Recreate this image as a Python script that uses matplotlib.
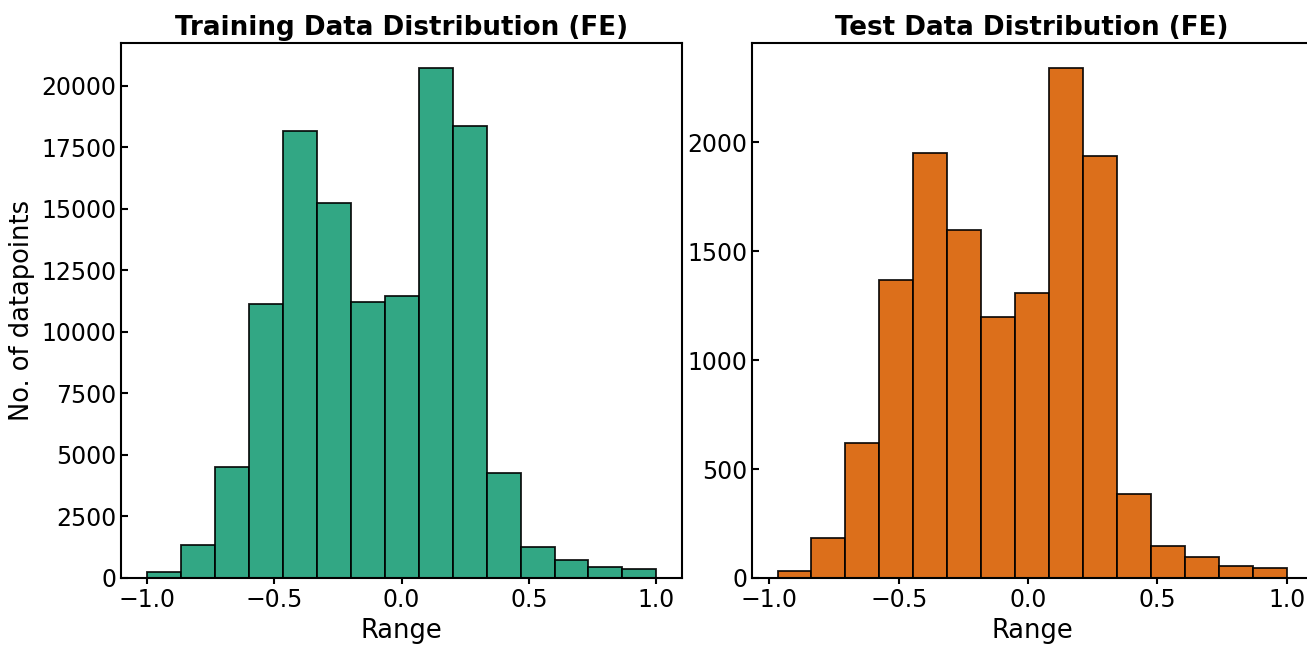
import numpy as np
import matplotlib
matplotlib.use("Agg")
import matplotlib.pyplot as plt
from matplotlib.ticker import MultipleLocator

# bin counts per split, 15 equal-width bins over each split's range
train_counts = [250, 1350, 4500, 11150, 18150, 15250, 11200, 11450,
                20700, 18350, 4250, 1250, 750, 450, 350]
test_counts = [30, 185, 620, 1370, 1950, 1600, 1200, 1310,
               2340, 1940, 385, 145, 95, 55, 45]
train_range = (-1.0, 1.0)
test_range = (-0.969, 1.0)
n_bins = 15

train_color = "#1b9e77"
test_color = "#d95f02"


def draw_hist(ax, counts, value_range, color, title):
    edges = np.linspace(value_range[0], value_range[1], n_bins + 1)
    centers = (edges[:-1] + edges[1:]) / 2
    ax.hist(centers, bins=edges, weights=counts, color=color, alpha=0.9,
            edgecolor="black", linewidth=1.3)
    ax.set_title(title, fontsize=18.8, fontweight="bold")
    ax.set_xlabel("Range", fontsize=18.5)
    ax.xaxis.set_major_locator(MultipleLocator(0.5))
    ax.tick_params(axis="both", labelsize=17, width=1.5)
    ax.tick_params(axis="y", direction="in", length=5)
    ax.tick_params(axis="x", direction="out", length=4)
    for sp in ax.spines.values():
        sp.set_linewidth(1.5)


fig = plt.figure(figsize=(13.07, 6.45), dpi=100)
ax1 = fig.add_axes([0.0926, 0.1039, 0.4292, 0.8295])
ax2 = fig.add_axes([0.5754, 0.1039, 0.4285, 0.8295])

draw_hist(ax1, train_counts, train_range, train_color,
          "Training Data Distribution (FE)")
draw_hist(ax2, test_counts, test_range, test_color,
          "Test Data Distribution (FE)")
ax1.set_ylabel("No. of datapoints", fontsize=18.5)

fig.savefig("out.png", dpi=100)
